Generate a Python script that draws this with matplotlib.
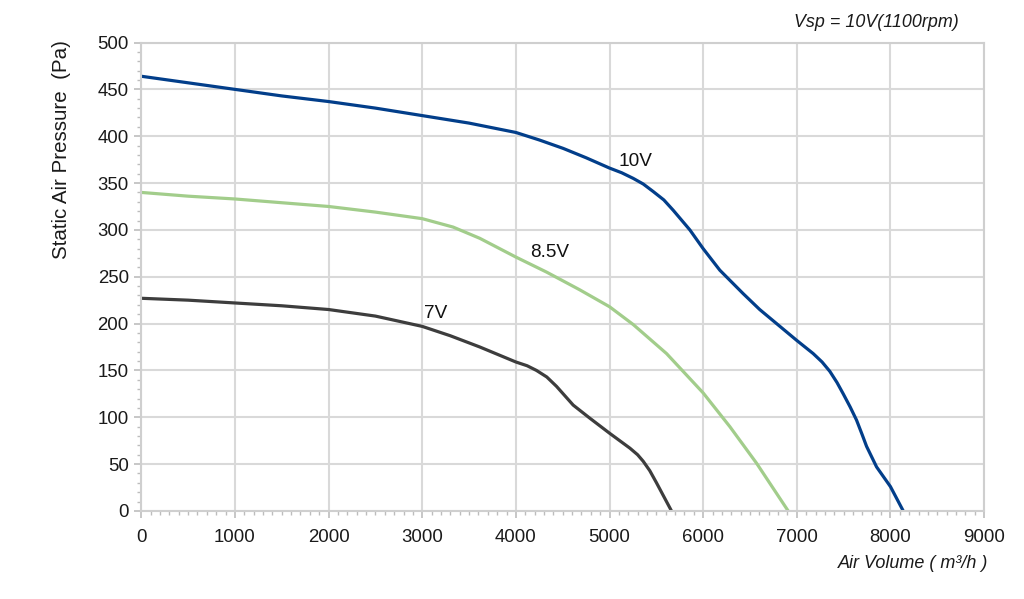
import matplotlib.pyplot as plt
from matplotlib.ticker import MultipleLocator

plt.rcParams['font.family'] = ['Liberation Sans', 'DejaVu Sans']

# fan curves (air volume m3/h, static pressure Pa)
x_10v = [0, 500, 1000, 1500, 2000, 2500, 3000, 3500, 4000, 4250, 4505, 4750,
         5000, 5130, 5253, 5360, 5466, 5580, 5680, 5858, 6000, 6178, 6427, 6604,
         6820, 7000, 7175, 7270, 7353, 7430, 7496, 7570, 7638, 7700, 7745, 7852,
         8000, 8137]
p_10v = [464, 457, 450, 443, 437, 430, 422, 414, 404, 396, 387, 377,
         366, 361, 355, 349, 341, 332, 321, 300, 280, 257, 232, 215,
         197, 182, 168, 159, 149, 137, 125, 111, 97, 81, 69, 47,
         26, 0]

x_85v = [0, 500, 1000, 1500, 2000, 2500, 3000, 3330, 3615, 4000, 4327, 4683,
         5000, 5253, 5609, 6000, 6285, 6570, 6908]
p_85v = [340, 336, 333, 329, 325, 319, 312, 303, 291, 271, 255, 236,
         218, 199, 168, 126, 90, 51, 0]

x_7v = [0, 500, 1000, 1500, 2000, 2500, 3000, 3300, 3615, 4000, 4120, 4220, 4330,
        4434, 4612, 4790, 5000, 5218, 5300, 5360, 5430, 5502, 5662]
p_7v = [227, 225, 222, 219, 215, 208, 197, 187, 175, 159, 155, 150, 143,
        133, 113, 99, 83, 67, 60, 53, 43, 30, 0]

fig = plt.figure(figsize=(10.24, 5.99), dpi=100)
ax = fig.add_axes([0.138, 0.147, 0.823, 0.782])

ax.plot(x_10v, p_10v, color='#023e8a', lw=2.3, solid_capstyle='butt', solid_joinstyle='round')
ax.plot(x_85v, p_85v, color='#a2cd8b', lw=2.3, solid_capstyle='butt', solid_joinstyle='round')
ax.plot(x_7v, p_7v, color='#3d3d3d', lw=2.3, solid_capstyle='butt', solid_joinstyle='round')

ax.text(5280, 373, '10V', fontsize=13.7, ha='center', va='center', color='#111111')
ax.text(4360, 276, '8.5V', fontsize=13.7, ha='center', va='center', color='#111111')
ax.text(3145, 211, '7V', fontsize=13.7, ha='center', va='center', color='#111111')

ax.set_xlim(0, 9000)
ax.set_ylim(0, 500)
ax.xaxis.set_major_locator(MultipleLocator(1000))
ax.xaxis.set_minor_locator(MultipleLocator(100))
ax.yaxis.set_major_locator(MultipleLocator(50))
ax.yaxis.set_minor_locator(MultipleLocator(10))

ax.grid(True, which='major', color='#d9d9d9', lw=1.5)
ax.set_axisbelow(True)
for s in ax.spines.values():
    s.set_color('#cfcfcf')
    s.set_linewidth(1.5)
ax.tick_params(which='major', length=5, width=1.2, color='#bdbdbd',
               labelsize=13.4, labelcolor='#1a1a1a', pad=4)
ax.tick_params(which='minor', length=3, width=1, color='#bdbdbd')
ax.tick_params(axis='x', pad=8)

fig.text(0.060, 0.75, 'Static Air Pressure  (Pa)', rotation=90, fontsize=14.8,
         ha='center', va='center', color='#1a1a1a')
fig.text(0.965, 0.06, 'Air Volume ( m³/h )', fontsize=13, style='italic',
         ha='right', va='center', color='#1a1a1a')
fig.text(0.936, 0.962, 'Vsp = 10V(1100rpm)', fontsize=12.9, style='italic',
         ha='right', va='center', color='#1a1a1a')

fig.savefig('out.png', dpi=100)
